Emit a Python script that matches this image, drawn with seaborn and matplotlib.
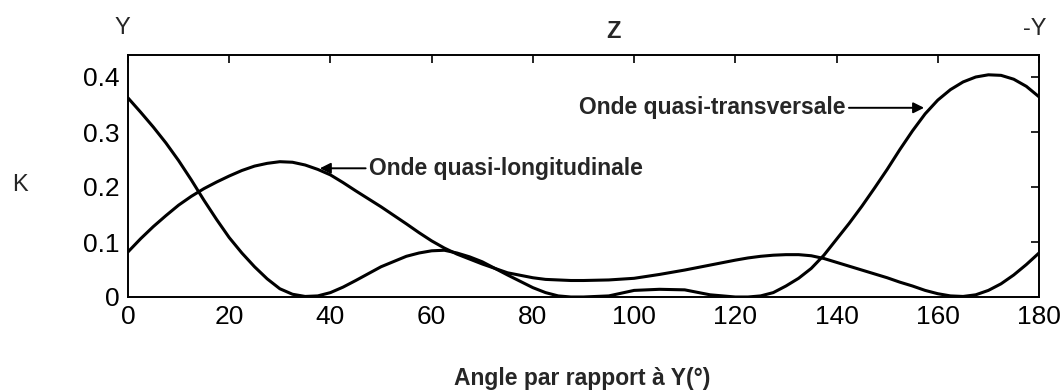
import numpy as np
import pandas as pd
import matplotlib
matplotlib.use("Agg")
import matplotlib.pyplot as plt
import seaborn as sns

# Angle relative to the Y axis (degrees)
angle = [0, 2.5, 5, 7.5, 10, 12.5, 15, 17.5, 20, 22.5, 25, 27.5, 30, 32.5, 35, 37.5,
         40, 42.5, 45, 50, 55, 57.5, 60, 62.5, 65, 67.5, 70, 75, 80, 82.5, 85, 87.5,
         90, 95, 100, 105, 110, 115, 120, 122.5, 125, 127.5, 130, 132.5, 135, 137.5,
         140, 142.5, 145, 147.5, 150, 152.5, 155, 157.5, 160, 162.5, 165, 167.5,
         170, 172.5, 175, 177.5, 180]

# Coupling coefficient K, quasi-longitudinal wave
k_long = [0.082, 0.106, 0.128, 0.148, 0.167, 0.183, 0.197, 0.209, 0.220, 0.230,
          0.238, 0.243, 0.246, 0.245, 0.240, 0.232, 0.222, 0.208, 0.193, 0.164,
          0.133, 0.117, 0.102, 0.089, 0.078, 0.069, 0.060, 0.044, 0.035, 0.032,
          0.031, 0.030, 0.030, 0.031, 0.034, 0.041, 0.049, 0.058, 0.067, 0.071,
          0.074, 0.076, 0.077, 0.077, 0.075, 0.070, 0.063, 0.056, 0.049, 0.042,
          0.035, 0.027, 0.020, 0.012, 0.006, 0.002, 0.001, 0.004, 0.012, 0.024,
          0.040, 0.059, 0.080]

# Coupling coefficient K, quasi-transverse wave
k_trans = [0.362, 0.336, 0.309, 0.280, 0.248, 0.213, 0.176, 0.141, 0.108, 0.080,
           0.055, 0.033, 0.015, 0.005, 0.001, 0.002, 0.008, 0.018, 0.030, 0.055,
           0.074, 0.080, 0.084, 0.085, 0.080, 0.073, 0.064, 0.040, 0.017, 0.008,
           0.002, 0.000, 0.000, 0.002, 0.012, 0.014, 0.013, 0.004, 0.000, 0.000,
           0.002, 0.008, 0.020, 0.034, 0.052, 0.076, 0.105, 0.134, 0.165, 0.198,
           0.232, 0.268, 0.302, 0.333, 0.358, 0.377, 0.391, 0.400, 0.404, 0.403,
           0.396, 0.383, 0.364]

x_ticks = [0, 20, 40, 60, 80, 100, 120, 140, 160, 180]
y_ticks = [0, 0.1, 0.2, 0.3, 0.4]
y_tick_labels = ["0", "0.1", "0.2", "0.3", "0.4"]

df = pd.DataFrame({
    "angle": angle * 2,
    "K": k_long + k_trans,
    "onde": ["longitudinale"] * len(angle) + ["transversale"] * len(angle),
})

sns.set_style("white")
plt.rcParams["font.family"] = ["Liberation Sans", "DejaVu Sans"]

fig = plt.figure(figsize=(10.64, 3.90), dpi=100)
ax = fig.add_axes([128 / 1064, 93 / 390, 911 / 1064, 242 / 390])

sns.lineplot(data=df, x="angle", y="K", hue="onde", palette=["black", "black"],
             linewidth=2.2, legend=False, ax=ax)

ax.set_xlim(0, 180)
ax.set_ylim(0, 0.44)
ax.set_xticks(x_ticks)
ax.set_xticklabels([str(t) for t in x_ticks])
ax.set_yticks(y_ticks)
ax.set_yticklabels(y_tick_labels)
ax.set_xlabel("")
ax.set_ylabel("")
ax.tick_params(direction="in", length=6, width=1.2, top=True, right=True,
               labelsize=19, colors="black", pad=6)
for s in ax.spines.values():
    s.set_visible(True)
    s.set_color("black")
    s.set_linewidth(1.4)

arrow = dict(arrowstyle="-|>", color="black", lw=1.4, mutation_scale=16,
             shrinkA=0, shrinkB=0)
ax.annotate("Onde quasi-longitudinale", xy=(37.9, 0.234), xytext=(47.6, 0.234),
            ha="left", va="center", fontsize=16.5, fontweight="bold",
            arrowprops=arrow)
ax.annotate("Onde quasi-transversale", xy=(157.3, 0.344), xytext=(141.8, 0.344),
            ha="right", va="center", fontsize=16.5, fontweight="bold",
            arrowprops=arrow)

fig.text(122 / 1064, 1 - 28 / 390, "Y", ha="center", va="center", fontsize=17)
fig.text(613 / 1064, 1 - 32 / 390, "Z", ha="center", va="center", fontsize=17,
         fontweight="bold")
fig.text(1035 / 1064, 1 - 29 / 390, "-Y", ha="center", va="center", fontsize=17)
fig.text(20 / 1064, 1 - 185 / 390, "K", ha="center", va="center", fontsize=17)
fig.text(582 / 1064, 1 - 379 / 390, "Angle par rapport à Y(°)", ha="center",
         va="center", fontsize=16.5, fontweight="bold")

fig.savefig("out.png", dpi=100, facecolor="white")
